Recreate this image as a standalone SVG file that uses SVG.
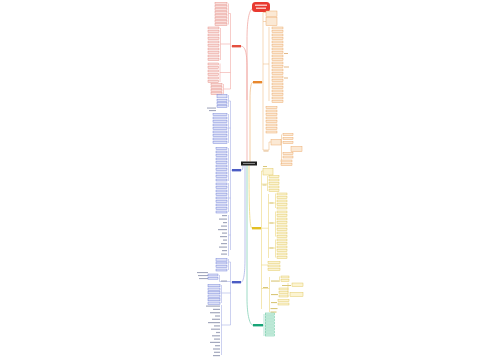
<svg xmlns="http://www.w3.org/2000/svg" width="500" height="360" viewBox="0 0 500 360">
<style>
.bg{fill:#ffffff}
.c{fill:none;stroke-width:.8}
.br{fill:none;stroke-width:.6}
.cr{stroke:#f1aaa5}.co{stroke:#f0c08c}.cb{stroke:#a9b2e6}.cy{stroke:#ecd77e}.cg{stroke:#86d2b8}
.lr{fill:#f9dfdc;stroke:#e58a82;stroke-width:.45}
.lo{fill:#fbe9d5;stroke:#eaa563;stroke-width:.45}
.lb{fill:#dde1f7;stroke:#6f7fd6;stroke-width:.45}
.ly{fill:#fcf4d2;stroke:#e1c55a;stroke-width:.45}
.lg{fill:#dcf4ea;stroke:#4fbf93;stroke-width:.45}
.tx{fill:#a3a8bd}
.ty{fill:#d9c77a}
.to{fill:#e3b98a}
</style>
<rect class="bg" x="0" y="0" width="500" height="360"/>

<g id="connectors">
  <path class="c cr" d="M247,161.5 V40 C247,20 249,10 253,8"/>
  <path class="c cr" d="M247,100 V68 C247,52 245,46.2 241,46.2"/>
  <path class="c co" d="M250,161.5 V100 C250,88 251,82.2 253,82.2"/>
  <path class="c cb" d="M243,165.5 C243,169 242.5,170.2 241,170.2"/>
  <path class="c cy" d="M249,165.5 C249,215 250,228.2 252,228.2"/>
  <path class="c cb" d="M245,165.5 V258 C245,274 243.5,282.2 241,282.2"/>
  <path class="c cg" d="M247,165.5 V298 C247,316 250,325.2 253,325.2"/>
  <path class="br cr" d="M232,46.2 H230.5 M230.5,13.5 V89 M230.5,13.5 H228.5 M228.5,3.5 V24.5 M230.5,44 H220.5 M220.5,28 V60 M230.5,72.5 H220 M220,63.5 V82 M230.5,89 H223.5 M223.5,84 V94"/>
  <path class="br cb" d="M232,170.2 H230.5 M230.5,101 V250 M228.5,95 V107 M230.5,101 H228.5 M228.5,114 V143 M230.5,128 H228.5 M228.5,148 V181 M228.5,183 V212 M230.5,198 H228.5 M228.5,215 V256 M230.5,235 H228.5"/>
  <path class="br cb" d="M232,282.2 H230.5 M230.5,262 V325 M228.5,259 V270 M230.5,262 H228.5 M230.5,281.5 H219.5 V275 M230.5,293 H221.5 M221.5,285 V303 M230.5,325 H221.5 M221.5,305 V355"/>
  <path class="br co" d="M262,82.2 H263 M263,12.5 V150 M263,64 H269 M269,27 V101 M263,150 H269 V142 H271 M281.5,134.5 V165 M281,142 H282 M263,12.5 H266 M263,21.5 H266"/>
  <path class="br cy" d="M261,228.2 H261.5 M261.5,171 V309 M261.5,171 H263 M261.5,184 H267.5 M267.5,176 V191 M261.5,228.2 H268.5 M268.5,194 V258 M268.5,203 H275.5 M275.5,193.5 V208 M268.5,223 H275.5 M275.5,211.5 V236.5 M268.5,248 H275.5 M275.5,239.5 V257.5 M261.5,265 H268 M261.5,288.5 H269.5 M269.5,277 V312 M279.5,276.5 V282 M288,283 V297"/>
  <path class="br cg" d="M263,325.2 H264 M264,314 V336"/>
</g>

<g id="root">
  <rect x="252" y="2" width="18" height="10" rx="3.5" fill="#e8392f"/>
  <rect x="255" y="4.6" width="12" height="1.2" fill="#ffe3df"/>
  <rect x="256" y="7.6" width="10" height="1.2" fill="#ffe3df"/>
</g>

<g id="center">
  <rect x="241" y="161.5" width="16" height="4" fill="#1f1f1f"/>
  <rect x="243" y="163" width="12" height="1" fill="#8a8a8a"/>
</g>

<g id="node-red"><rect x="232" y="45" width="9" height="2.4" fill="#e4503f"/></g>
<g id="node-orange"><rect x="253" y="81" width="9" height="2.4" fill="#e8872c"/></g>
<g id="node-blue-top"><rect x="232" y="169" width="9" height="2.4" fill="#4b5cc4"/></g>
<g id="node-yellow"><rect x="252" y="227" width="9" height="2.4" fill="#e3bf22"/></g>
<g id="node-blue-bottom"><rect x="232" y="281" width="9" height="2.4" fill="#4b5cc4"/></g>
<g id="node-green"><rect x="253" y="324" width="10" height="2.4" fill="#18a578"/></g>

<g id="red-leaves-1">
  <rect class="lr" x="215" y="2.5" width="12" height="2"/>
  <rect class="lr" x="215" y="5.5" width="12" height="2"/>
  <rect class="lr" x="215" y="8.5" width="12" height="2"/>
  <rect class="lr" x="215" y="11.5" width="12" height="2"/>
  <rect class="lr" x="215" y="14.5" width="12" height="2"/>
  <rect class="lr" x="215" y="17.5" width="12" height="2"/>
  <rect class="lr" x="215" y="20.5" width="12" height="2"/>
  <rect class="lr" x="215" y="23.5" width="12" height="2"/>
</g>
<g id="red-leaves-2">
  <rect class="lr" x="208" y="27" width="11" height="2"/>
  <rect class="lr" x="208" y="30.5" width="11" height="2"/>
  <rect class="lr" x="208" y="34" width="11" height="2"/>
  <rect class="lr" x="208" y="37.5" width="11" height="2"/>
  <rect class="lr" x="208" y="41" width="11" height="2"/>
  <rect class="lr" x="208" y="44.5" width="11" height="2"/>
  <rect class="lr" x="208" y="48" width="11" height="2"/>
  <rect class="lr" x="208" y="51.5" width="11" height="2"/>
  <rect class="lr" x="208" y="55" width="11" height="2"/>
  <rect class="lr" x="208" y="58.5" width="11" height="2"/>
</g>
<g id="red-leaves-3">
  <rect class="lr" x="208" y="63" width="10.5" height="2"/>
  <rect class="lr" x="208" y="66.5" width="10.5" height="2"/>
  <rect class="lr" x="208" y="70" width="10.5" height="2"/>
  <rect class="lr" x="208" y="73.5" width="10.5" height="2"/>
  <rect class="lr" x="208" y="77" width="10.5" height="2"/>
  <rect class="lr" x="208" y="80.5" width="10.5" height="2"/>
</g>
<g id="red-leaves-4">
  <rect class="lr" x="211" y="83.5" width="11" height="2"/>
  <rect class="lr" x="211" y="86.5" width="11" height="2"/>
  <rect class="lr" x="211" y="89.5" width="11" height="2"/>
  <rect class="lr" x="211" y="92.5" width="11" height="2"/>
</g>

<g id="blue-top-leaves-1">
  <rect class="lb" x="217" y="94.5" width="10" height="3.4"/>
  <rect class="lb" x="217" y="99.5" width="10" height="2"/>
  <rect class="lb" x="217" y="102.5" width="10" height="2"/>
  <rect class="lb" x="217" y="105.5" width="10" height="2"/>
</g>
<g id="blue-top-leaves-2">
  <rect class="tx" x="207" y="107.5" width="9" height="1.1"/>
  <rect class="tx" x="209" y="110" width="7" height="1.1"/>
  <rect class="lb" x="213" y="113.5" width="14" height="2"/>
  <rect class="lb" x="213" y="117" width="14" height="2"/>
  <rect class="lb" x="213" y="120.5" width="14" height="2"/>
  <rect class="lb" x="213" y="124" width="14" height="2"/>
  <rect class="lb" x="213" y="127.5" width="14" height="2"/>
  <rect class="lb" x="213" y="131" width="14" height="2"/>
  <rect class="lb" x="213" y="134.5" width="14" height="2"/>
  <rect class="lb" x="213" y="138" width="14" height="2"/>
  <rect class="lb" x="213" y="141.5" width="14" height="2"/>
</g>
<g id="blue-top-leaves-3">
  <rect class="lb" x="216" y="147.5" width="11" height="2"/>
  <rect class="lb" x="216" y="151" width="11" height="2"/>
  <rect class="lb" x="216" y="154.5" width="11" height="2"/>
  <rect class="lb" x="216" y="158" width="11" height="2"/>
  <rect class="lb" x="216" y="161.5" width="11" height="2"/>
  <rect class="lb" x="216" y="165" width="11" height="2"/>
  <rect class="lb" x="216" y="168.5" width="11" height="2"/>
  <rect class="lb" x="216" y="172" width="11" height="2"/>
  <rect class="lb" x="216" y="175.5" width="11" height="2"/>
  <rect class="lb" x="216" y="179" width="11" height="2"/>
</g>
<g id="blue-top-leaves-4">
  <rect class="lb" x="216" y="183" width="11" height="2"/>
  <rect class="lb" x="216" y="186.5" width="11" height="2"/>
  <rect class="lb" x="216" y="190" width="11" height="2"/>
  <rect class="lb" x="216" y="193.5" width="11" height="2"/>
  <rect class="lb" x="216" y="197" width="11" height="2"/>
  <rect class="lb" x="216" y="200.5" width="11" height="2"/>
  <rect class="lb" x="216" y="204" width="11" height="2"/>
  <rect class="lb" x="216" y="207.5" width="11" height="2"/>
  <rect class="lb" x="216" y="211" width="11" height="2"/>
</g>
<g id="blue-top-leaves-5">
  <rect class="tx" x="222" y="215" width="5" height="1.2"/>
  <rect class="tx" x="219" y="218.5" width="8" height="1.2"/>
  <rect class="tx" x="223" y="222" width="4" height="1.2"/>
  <rect class="tx" x="221" y="225.5" width="6" height="1.2"/>
  <rect class="tx" x="218" y="229" width="9" height="1.2"/>
  <rect class="tx" x="222" y="232.5" width="5" height="1.2"/>
  <rect class="tx" x="220" y="236" width="7" height="1.2"/>
  <rect class="tx" x="223" y="239.5" width="4" height="1.2"/>
  <rect class="tx" x="221" y="243" width="6" height="1.2"/>
  <rect class="tx" x="219" y="246.5" width="8" height="1.2"/>
  <rect class="tx" x="222" y="250" width="5" height="1.2"/>
  <rect class="tx" x="221" y="253.5" width="6" height="1.2"/>
</g>

<g id="blue-bottom-leaves-1">
  <rect class="lb" x="216" y="258.5" width="11" height="2.6"/>
  <rect class="lb" x="216" y="262" width="11" height="2"/>
  <rect class="lb" x="216" y="265.5" width="11" height="2"/>
  <rect class="lb" x="216" y="269" width="11" height="2"/>
</g>
<g id="blue-bottom-leaves-2">
  <rect class="tx" x="197" y="272" width="11" height="1.1"/>
  <rect class="tx" x="198" y="275" width="10" height="1.1"/>
  <rect class="tx" x="199" y="278" width="9" height="1.1"/>
  <rect class="lb" x="208" y="274" width="10" height="2"/>
  <rect class="lb" x="208" y="277.2" width="10" height="2"/>
  <rect class="tx" x="221" y="280.5" width="6" height="1.1"/>
</g>
<g id="blue-bottom-leaves-3">
  <rect class="lb" x="208" y="284.5" width="12" height="2.3"/>
  <rect class="lb" x="208" y="288" width="12" height="2.3"/>
  <rect class="lb" x="208" y="291.5" width="12" height="2.3"/>
  <rect class="lb" x="208" y="295" width="12" height="2.3"/>
  <rect class="lb" x="208" y="298.5" width="12" height="2.3"/>
  <rect class="lb" x="208" y="302" width="12" height="2.3"/>
</g>
<g id="blue-bottom-leaves-4">
  <rect class="tx" x="206" y="305.5" width="14" height="1.2"/>
  <rect class="tx" x="213" y="308.8" width="7" height="1.2"/>
  <rect class="tx" x="210" y="312.1" width="10" height="1.2"/>
  <rect class="tx" x="215" y="315.4" width="5" height="1.2"/>
  <rect class="tx" x="212" y="318.7" width="8" height="1.2"/>
  <rect class="tx" x="208" y="322" width="12" height="1.2"/>
  <rect class="tx" x="214" y="325.3" width="6" height="1.2"/>
  <rect class="tx" x="211" y="328.6" width="9" height="1.2"/>
  <rect class="tx" x="216" y="331.9" width="4" height="1.2"/>
  <rect class="tx" x="212" y="335.2" width="8" height="1.2"/>
  <rect class="tx" x="214" y="338.5" width="6" height="1.2"/>
  <rect class="tx" x="210" y="341.8" width="10" height="1.2"/>
  <rect class="tx" x="215" y="345.1" width="5" height="1.2"/>
  <rect class="tx" x="213" y="348.4" width="7" height="1.2"/>
  <rect class="tx" x="214" y="351.7" width="6" height="1.2"/>
  <rect class="tx" x="213" y="355" width="7" height="1.2"/>
</g>

<g id="orange-leaves-1">
  <rect class="lo" x="266" y="11" width="11" height="5.5"/>
  <rect class="lo" x="266" y="17.5" width="11" height="8"/>
</g>
<g id="orange-leaves-2">
  <rect class="lo" x="272" y="27" width="11" height="2"/>
  <rect class="lo" x="272" y="30.5" width="11" height="2"/>
  <rect class="lo" x="272" y="34" width="11" height="2"/>
  <rect class="lo" x="272" y="37.5" width="11" height="2"/>
  <rect class="lo" x="272" y="41" width="11" height="2"/>
  <rect class="lo" x="272" y="44.5" width="11" height="2"/>
  <rect class="lo" x="272" y="48" width="11" height="2"/>
  <rect class="lo" x="272" y="51.5" width="11" height="2"/>
  <rect class="lo" x="272" y="55" width="11" height="2"/>
  <rect class="lo" x="272" y="58.5" width="11" height="2"/>
  <rect class="lo" x="272" y="62" width="11" height="2"/>
  <rect class="lo" x="272" y="65.5" width="11" height="2"/>
  <rect class="lo" x="272" y="69" width="11" height="2"/>
  <rect class="lo" x="272" y="72.5" width="11" height="2"/>
  <rect class="lo" x="272" y="76" width="11" height="2"/>
  <rect class="lo" x="272" y="79.5" width="11" height="2"/>
  <rect class="lo" x="272" y="83" width="11" height="2"/>
  <rect class="lo" x="272" y="86.5" width="11" height="2"/>
  <rect class="lo" x="272" y="90" width="11" height="2"/>
  <rect class="lo" x="272" y="93.5" width="11" height="2"/>
  <rect class="lo" x="272" y="97" width="11" height="2"/>
  <rect class="lo" x="272" y="100.5" width="11" height="2"/>
  <rect class="to" x="284" y="53" width="4" height="1"/>
  <rect class="to" x="284" y="66.5" width="5" height="1"/>
  <rect class="to" x="284" y="77.5" width="4" height="1"/>
</g>
<g id="orange-leaves-3">
  <rect class="lo" x="266" y="106.5" width="11" height="2"/>
  <rect class="lo" x="266" y="110" width="11" height="2"/>
  <rect class="lo" x="266" y="113.5" width="11" height="2"/>
  <rect class="lo" x="266" y="117" width="11" height="2"/>
  <rect class="lo" x="266" y="120.5" width="11" height="2"/>
  <rect class="lo" x="266" y="124" width="11" height="2"/>
  <rect class="lo" x="266" y="127.5" width="11" height="2"/>
  <rect class="lo" x="266" y="131" width="11" height="2"/>
</g>
<g id="orange-leaves-4">
  <rect class="to" x="263.5" y="150.5" width="5" height="1"/>
  <rect class="lo" x="271" y="139.5" width="10" height="5.5"/>
  <rect class="lo" x="283" y="133.5" width="10" height="2"/>
  <rect class="lo" x="283" y="137.5" width="10" height="2"/>
  <rect class="lo" x="283" y="141.5" width="10" height="2"/>
  <rect class="lo" x="291" y="146.5" width="11" height="5"/>
  <rect class="lo" x="283" y="152.5" width="10" height="2"/>
  <rect class="lo" x="283" y="156" width="10" height="2"/>
  <rect class="lo" x="281" y="160" width="11" height="2"/>
  <rect class="lo" x="281" y="163.5" width="11" height="2"/>
</g>

<g id="yellow-leaves-0">
  <rect class="ty" x="263" y="166" width="4" height="1"/>
  <rect class="ly" x="263" y="168.5" width="10" height="6.5"/>
</g>
<g id="yellow-leaves-a">
  <rect class="ly" x="269" y="175.5" width="10" height="2"/>
  <rect class="ly" x="269" y="179" width="10" height="2"/>
  <rect class="ly" x="269" y="182.5" width="10" height="2"/>
  <rect class="ly" x="269" y="186" width="10" height="2"/>
  <rect class="ly" x="269" y="189.5" width="10" height="2"/>
  <rect class="ty" x="262.5" y="184.5" width="4" height="1"/>
</g>
<g id="yellow-leaves-b">
  <rect class="ly" x="277" y="193" width="10" height="2"/>
  <rect class="ly" x="277" y="196.5" width="10" height="2"/>
  <rect class="ly" x="277" y="200" width="10" height="2"/>
  <rect class="ly" x="277" y="203.5" width="10" height="2"/>
  <rect class="ly" x="277" y="207" width="10" height="2"/>
  <rect class="ly" x="277" y="211" width="10" height="2"/>
  <rect class="ly" x="277" y="214.5" width="10" height="2"/>
  <rect class="ly" x="277" y="218" width="10" height="2"/>
  <rect class="ly" x="277" y="221.5" width="10" height="2"/>
  <rect class="ly" x="277" y="225" width="10" height="2"/>
  <rect class="ly" x="277" y="228.5" width="10" height="2"/>
  <rect class="ly" x="277" y="232" width="10" height="2"/>
  <rect class="ly" x="277" y="235.5" width="10" height="2"/>
  <rect class="ly" x="277" y="239" width="10" height="2"/>
  <rect class="ly" x="277" y="242.5" width="10" height="2"/>
  <rect class="ly" x="277" y="246" width="10" height="2"/>
  <rect class="ly" x="277" y="249.5" width="10" height="2"/>
  <rect class="ly" x="277" y="253" width="10" height="2"/>
  <rect class="ly" x="277" y="256.5" width="10" height="2"/>
  <rect class="ty" x="269.5" y="202.5" width="4" height="1"/>
  <rect class="ty" x="269.5" y="222.5" width="4" height="1"/>
  <rect class="ty" x="269.5" y="247.5" width="4" height="1"/>
</g>
<g id="yellow-leaves-c">
  <rect class="ly" x="268" y="261.5" width="12" height="2"/>
  <rect class="ly" x="268" y="265" width="12" height="2"/>
  <rect class="ly" x="268" y="268.5" width="12" height="2"/>
</g>
<g id="yellow-leaves-d">
  <rect class="ty" x="263" y="287" width="5" height="1"/>
  <rect class="ty" x="271" y="280.5" width="8" height="1.1"/>
  <rect class="ly" x="281" y="276" width="8" height="2"/>
  <rect class="ly" x="281" y="279.5" width="8" height="2"/>
  <rect class="ly" x="292" y="283" width="11" height="3.5"/>
  <rect class="ty" x="282" y="285" width="9" height="1"/>
  <rect class="ty" x="271" y="294" width="7" height="1.1"/>
  <rect class="ly" x="279" y="288" width="9" height="2"/>
  <rect class="ly" x="279" y="291.5" width="9" height="2"/>
  <rect class="ly" x="279" y="295" width="9" height="2"/>
  <rect class="ly" x="290" y="292.5" width="13" height="4"/>
  <rect class="ty" x="271" y="302" width="6" height="1.1"/>
  <rect class="ly" x="278" y="299.5" width="11" height="2"/>
  <rect class="ly" x="278" y="303" width="11" height="2"/>
  <rect class="ty" x="270.5" y="308" width="7" height="1.1"/>
  <rect class="ty" x="270.5" y="311.5" width="6" height="1.1"/>
</g>

<g id="green-leaves">
  <rect class="lg" x="265.5" y="313" width="9" height="2"/>
  <rect class="lg" x="265.5" y="316" width="9" height="2"/>
  <rect class="lg" x="265.5" y="319" width="9" height="2"/>
  <rect class="lg" x="265.5" y="322" width="9" height="2"/>
  <rect class="lg" x="265.5" y="325" width="9" height="2"/>
  <rect class="lg" x="265.5" y="328" width="9" height="2"/>
  <rect class="lg" x="265.5" y="331" width="9" height="2"/>
  <rect class="lg" x="265.5" y="334" width="9" height="2"/>
</g>
</svg>
